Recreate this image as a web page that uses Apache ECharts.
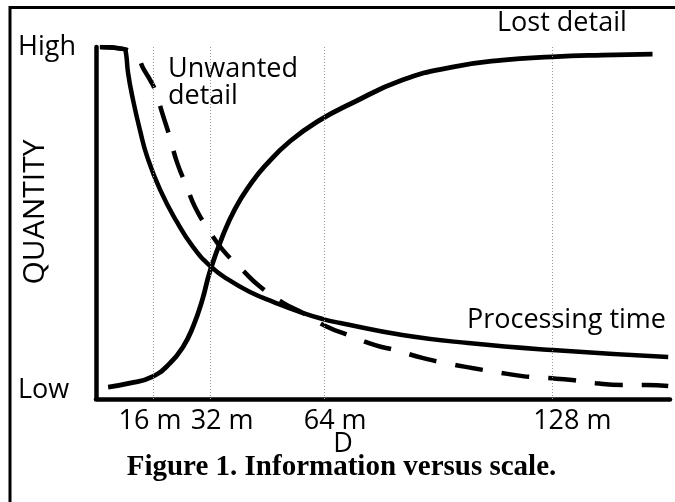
<!DOCTYPE html>
<html>
<head>
<meta charset="utf-8">
<script src="https://cdn.jsdelivr.net/npm/echarts@6/dist/echarts.min.js"></script>
<style>
  html, body { margin: 0; padding: 0; background: #fff; }
  #chart { width: 675px; height: 502px; }
</style>
</head>
<body>
<div id="chart"></div>
<script>
// tick values and labels
const xTicks = [16, 32, 64, 128]
const xTickLabels = ['16 m', '32 m', '64 m', '128 m']
const yTicks = [2.5, 100]
const yTickLabels = ['Low', 'High']

// curves, [D, quantity] (0 = Low, 100 = High)
const processingTime = [
  [1.1, 100], [7.9, 99.4], [8.4, 98.3], [9.0, 92.6], [10.4, 84.9], [12.4, 76.1],
  [14.3, 69.0], [18.0, 59.4], [22.7, 50.3], [27.2, 43.2], [32.0, 37.8], [36.8, 34.1],
  [43.2, 30.4], [49.7, 27.6], [57.3, 24.7], [63.7, 22.7], [68.5, 21.6], [85.9, 18.2],
  [104.4, 15.9], [128.0, 13.9], [160.5, 11.9]
]
const unwantedDetail = [
  [1.1, 100], [7.9, 99.4], [10.4, 98.0], [12.1, 96.3], [13.2, 94.0], [15.2, 90.6],
  [16.8, 87.2], [18.5, 81.5], [20.8, 74.1], [22.7, 67.3], [25.5, 60.2], [27.8, 54.5],
  [32.0, 47.4], [35.6, 42.3], [41.3, 36.4], [45.8, 32.1], [52.5, 27.3], [58.1, 24.4],
  [64.8, 20.5], [70.7, 18.2], [78.3, 15.3], [83.9, 13.9], [91.8, 11.6], [98.0, 10.2],
  [105.5, 8.8], [112.0, 7.7], [119.6, 6.5], [126.0, 6.0], [133.6, 5.4], [140.1, 4.5],
  [147.6, 4.0], [154.1, 4.0], [160.5, 3.7]
]
const lostDetail = [
  [3.4, 3.4], [9.5, 4.5], [15.7, 6.3], [20.8, 10.2], [24.4, 14.8], [27.2, 20.5],
  [29.8, 28.1], [32.0, 36.4], [35.4, 46.0], [39.0, 54.0], [43.2, 60.8], [47.4, 66.2],
  [54.5, 73.3], [62.9, 79.3], [71.3, 83.8], [85.9, 90.6],
  [99.9, 94.3], [114.0, 96.3], [128.0, 97.2], [142.0, 97.7], [156.1, 98.0]
]

const font = 'Open Sans'
const chart = echarts.init(document.getElementById('chart'))

const option = {
  backgroundColor: '#fff',
  animation: false,
  grid: { left: 96, right: 5, top: 47, bottom: 103, outerBoundsMode: 'none', containLabel: false },
  xAxis: {
    type: 'value',
    min: 0,
    max: 161,
    name: 'D',
    nameLocation: 'middle',
    nameGap: 32,
    nameMoveOverlap: false,
    nameTextStyle: { fontFamily: font, fontSize: 27, color: '#000', padding: [0, 80, 0, 0] },
    axisLine: { show: true, lineStyle: { color: '#000', width: 4.5 } },
    axisTick: { show: false },
    splitLine: { show: false },
    axisLabel: {
      customValues: xTicks,
      margin: 9,
      fontFamily: font,
      fontSize: 27,
      color: '#000',
      formatter: v => '{s' + xTicks.indexOf(v) + '|' + xTickLabels[xTicks.indexOf(v)] + '}',
      rich: {
        s0: { fontFamily: font, fontSize: 27, color: '#000', padding: [0, 6, 0, 0] },
        s1: { fontFamily: font, fontSize: 27, color: '#000', padding: [0, 0, 0, 24] },
        s2: { fontFamily: font, fontSize: 27, color: '#000', padding: [0, 0, 0, 22] },
        s3: { fontFamily: font, fontSize: 27, color: '#000', padding: [0, 0, 0, 40] }
      }
    }
  },
  yAxis: {
    type: 'value',
    min: 0,
    max: 100,
    name: 'QUANTITY',
    nameLocation: 'middle',
    nameGap: 46,
    nameMoveOverlap: false,
    nameTextStyle: { fontFamily: font, fontSize: 30, color: '#000', padding: [0, 0, 0, 22] },
    axisLine: { show: true, lineStyle: { color: '#000', width: 4.5 } },
    axisTick: { show: false },
    splitLine: { show: false },
    axisLabel: {
      customValues: yTicks,
      align: 'left',
      margin: 78,
      fontFamily: font,
      fontSize: 27,
      color: '#000',
      formatter: v => yTickLabels[yTicks.indexOf(v)]
    }
  },
  series: [
    {
      name: 'Unwanted detail',
      type: 'line',
      data: unwantedDetail,
      showSymbol: false,
      smooth: 0.5,
      lineStyle: { color: '#000', width: 4.5, type: [28, 19] },
      markLine: {
        silent: true,
        symbol: 'none',
        label: { show: false },
        lineStyle: { color: '#999', width: 1, type: [1, 2] },
        data: xTicks.map(v => ({ xAxis: v }))
      }
    },
    {
      name: 'Processing time',
      type: 'line',
      data: processingTime,
      showSymbol: false,
      smooth: 0.5,
      lineStyle: { color: '#000', width: 4.5 }
    },
    {
      name: 'Lost detail',
      type: 'line',
      data: lostDetail,
      showSymbol: false,
      smooth: 0.5,
      lineStyle: { color: '#000', width: 4.8 }
    }
  ],
  graphic: [
    // frame (top and left edges only are visible in the original)
    { type: 'polyline', shape: { points: [[10, 502], [10, 7.5], [675, 7.5]] }, style: { stroke: '#000', lineWidth: 3, fill: null } },
    { type: 'text', left: 168, top: 56, style: { text: 'Unwanted\ndetail', fontFamily: font, fontSize: 27, lineHeight: 27, fill: '#000' } },
    { type: 'text', left: 497, top: 10, style: { text: 'Lost detail', fontFamily: font, fontSize: 27, fill: '#000' } },
    { type: 'text', left: 467, top: 307, style: { text: 'Processing time', fontFamily: font, fontSize: 27, fill: '#000' } },
    {
      type: 'text', x: 341.5, y: 468,
      style: { text: 'Figure 1. Information versus scale.', fontFamily: 'Liberation Serif', fontWeight: 'bold', fontSize: 29, fill: '#000', align: 'center', verticalAlign: 'middle' }
    }
  ]
}

chart.setOption(option)
</script>
</body>
</html>
